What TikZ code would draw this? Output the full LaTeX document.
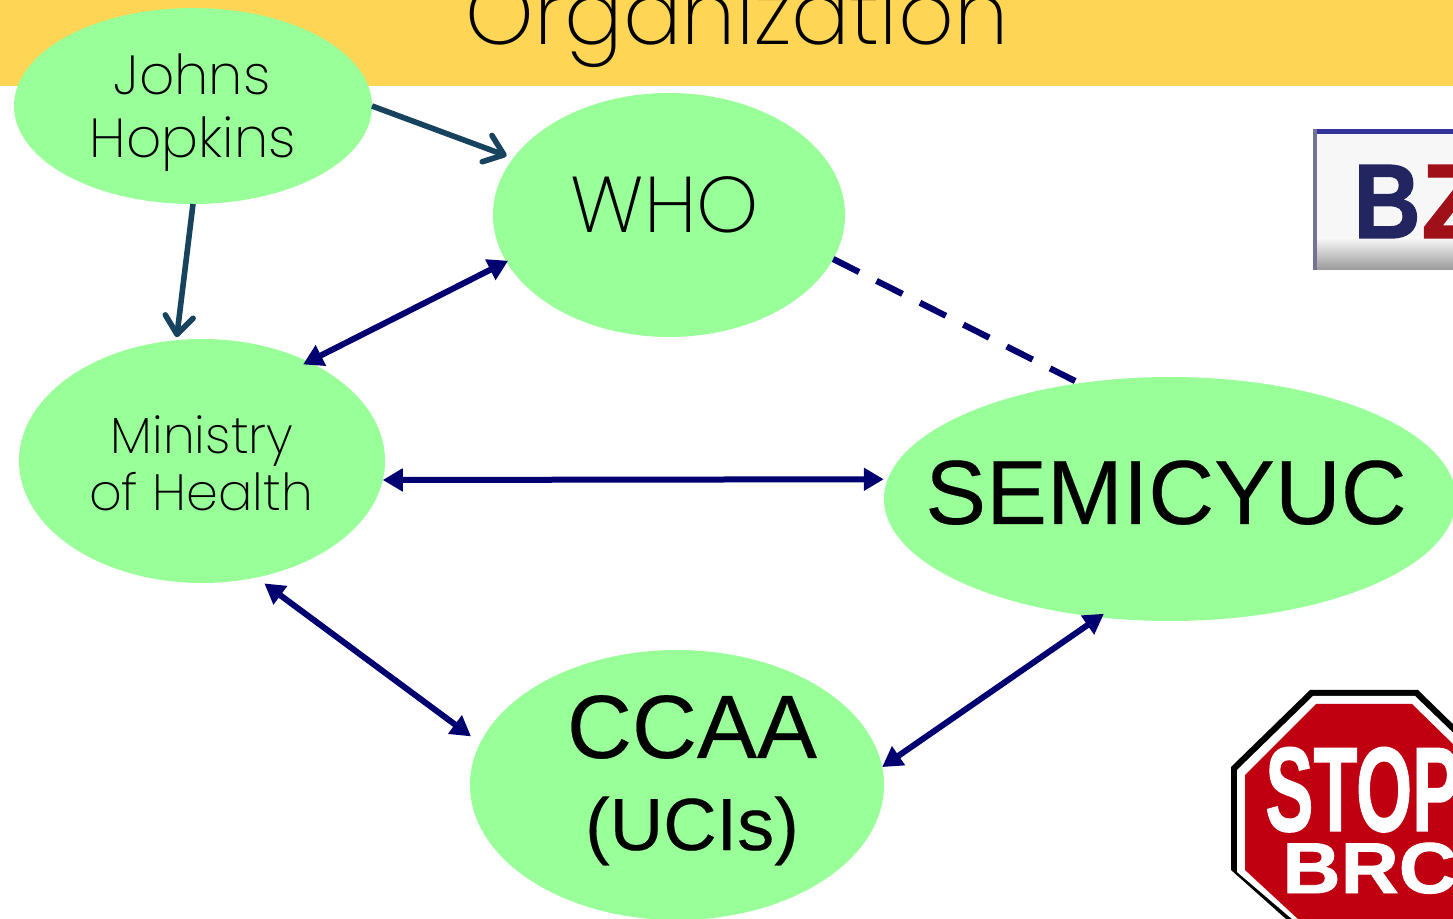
\documentclass[tikz,border=0pt]{standalone}
\usepackage{graphicx}
\usepackage{fontspec}
\usetikzlibrary{shapes.geometric,arrows.meta}
\setmainfont{Liberation Sans}
\newfontfamily\thinfont[UprightFont=* ExtraLight]{Poppins}
\newfontfamily\heavyfont[FakeBold=0.25]{Liberation Sans}
\newfontfamily\blackfont[FakeBold=1.2,BoldFont={Liberation Sans Bold}]{Liberation Sans Bold}
\definecolor{band}{HTML}{FFD555}
\definecolor{leaf}{HTML}{99FF99}
\definecolor{teal}{HTML}{17435F}
\definecolor{navy}{HTML}{000070}
\definecolor{stopred}{HTML}{C00010}
\definecolor{bzred}{HTML}{A01018}
\definecolor{bznavy}{HTML}{232560}
\tikzset{
  bubble/.style={ellipse,fill=leaf,inner sep=0pt,outer sep=0pt},
  lighttext/.style={anchor=base,inner sep=0pt,font=\thinfont\fontsize{#1}{#1}\selectfont,text=black},
  plaintext/.style={anchor=base,inner sep=0pt,font=\heavyfont\fontsize{#1}{#1}\selectfont,text=black},
  oneway/.style={draw=teal,line width=2.8pt,-{Straight Barb[length=9pt,width=14pt,round,line width=2.8pt]}},
  twoway/.style={draw=navy,line width=3pt,{Triangle[length=10pt,width=11pt]}-{Triangle[length=10pt,width=11pt]}},
  dashlink/.style={draw=navy,line width=3.1pt,dash pattern=on 14.5pt off 9.8pt},
}
\begin{document}
\begin{tikzpicture}[x=0.5pt,y=-0.5pt]
\useasboundingbox (0,0) rectangle (1453,919);
\clip (0,0) rectangle (1453,919);
\fill[white] (0,0) rectangle (1453,919);
\fill[band] (0,0) rectangle (1453,86);
\node[lighttext=43.5pt] (title) at (737,45) {Organization};

% pictures at the right
\fill[black!3] (1313,129) rectangle (1453,270);
\shade[top color=black!3,bottom color=black!40] (1316,238) rectangle (1453,270);
\fill[blue!50!black!80] (1313,129) rectangle (1453,134);
\fill[blue!25!black!55] (1313,129) rectangle (1317,270);
\node[anchor=base west,inner sep=0pt,font=\blackfont\fontsize{53pt}{53pt}\selectfont,text=bznavy] (bzb) at (1353,238) {\scalebox{.88}[1]{B}};
\node[anchor=base west,inner sep=0pt,font=\blackfont\fontsize{53pt}{53pt}\selectfont,text=bzred] (bzz) at (1421,238) {Z};

\fill[black] (1310,690) -- (1418,690) -- (1500,770) -- (1500,919) -- (1286,919) -- (1231,870) -- (1231,767) -- cycle;
\fill[white] (1313,696) -- (1415,696) -- (1500,778) -- (1500,919) -- (1292,919) -- (1237,872) -- (1237,770) -- cycle;
\fill[stopred] (1316,704) -- (1412,704) -- (1500,790) -- (1500,919) -- (1298,919) -- (1245,870) -- (1245,775) -- cycle;
\node[anchor=base west,inner sep=0pt,font=\blackfont\fontsize{60pt}{60pt}\selectfont,text=white] (stopw) at (1265,831) {\scalebox{.6}[1]{STOP}};
\node[anchor=base west,inner sep=0pt,font=\blackfont\fontsize{36pt}{36pt}\selectfont,text=white] (brcw) at (1282,893) {\scalebox{1.12}[1]{BRC}};

% bubbles
\node[bubble,minimum width=179pt,minimum height=98pt] (jh) at (193,106) {};
\node[bubble,minimum width=176pt,minimum height=122pt] (who) at (669,215) {};
\node[bubble,minimum width=183pt,minimum height=122pt] (moh) at (202,461) {};
\node[bubble,minimum width=286pt,minimum height=122pt] (semi) at (1170,499) {};
\node[bubble,minimum width=207pt,minimum height=135pt] (ccaa) at (677,785) {};

% labels
\node[lighttext=27.5pt] (t1) at (192,95) {Johns};
\node[lighttext=27.5pt] (t2) at (193,158) {Hopkins};
\node[lighttext=39.5pt] (t3) at (665,233) {WHO};
\node[lighttext=25.5pt] (t4) at (202,454) {Ministry};
\node[lighttext=25.5pt] (t5) at (201,511) {of Health};
\node[plaintext=45.6pt] (t6) at (1166,524) {SEMICYUC};
\node[plaintext=45pt] (t7) at (692,758) {CCAA};
\node[plaintext=37pt] (t8) at (692,850) {(UCIs)};

% connectors
\draw[oneway,shorten >=3.5pt] (jh.east) -- (who.160.5);
\draw[oneway,shorten >=1.5pt] (jh.south) -- (moh.102.7);
\draw[twoway,shorten <=-1pt,shorten >=-3pt] (who.196) -- (moh.43.9);
\draw[dashlink,shorten >=2.5pt] (who.-15.8) -- (semi.128.1);
\draw[twoway,shorten >=2pt] (moh.-6.3) -- (semi.176.4);
\draw[twoway,shorten <=5pt,shorten >=5.7pt] (moh.-65.2) -- (ccaa.168.6);
\draw[twoway,shorten >=-3pt] (ccaa.5.8) -- (semi.239);
\end{tikzpicture}
\end{document}
